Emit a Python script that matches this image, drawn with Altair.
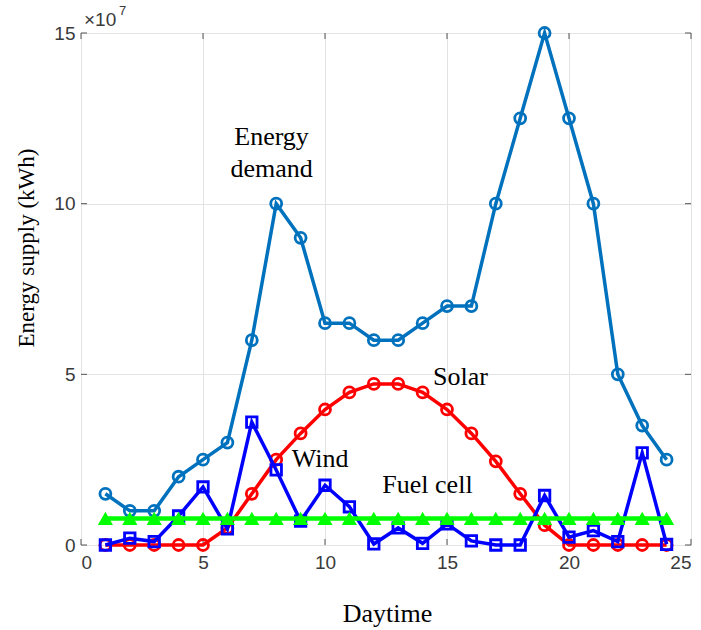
import altair as alt
import pandas as pd

# Values in units of 1e7 kWh
hours = list(range(1, 25))
demand = [1.5, 1.0, 1.0, 2.0, 2.5, 3.0, 6.0, 10.0, 9.0, 6.5, 6.5, 6.0,
          6.0, 6.5, 7.0, 7.0, 10.0, 12.5, 15.0, 12.5, 10.0, 5.0, 3.5, 2.5]
solar = [0, 0, 0, 0, 0, 0.5, 1.5, 2.5, 3.27, 3.97, 4.47, 4.72,
         4.72, 4.47, 3.97, 3.27, 2.45, 1.5, 0.58, 0, 0, 0, 0, 0]
wind = [0.0, 0.2, 0.1, 0.85, 1.7, 0.47, 3.6, 2.2, 0.7, 1.75, 1.12, 0.03,
        0.5, 0.05, 0.62, 0.12, 0.0, 0.0, 1.45, 0.23, 0.42, 0.1, 2.7, 0.02]
fuel = [0.78] * 24

x_ticks = [0, 5, 10, 15, 20, 25]
y_ticks = [0, 5, 10, 15]

labels = ["Energy", "demand", "Solar", "Wind", "Fuel cell"]
label_x = [7.81, 7.81, 15.55, 9.8, 14.2]
label_y = [11.72, 10.78, 4.69, 2.29, 1.52]

W, H = 610, 512
xs = alt.Scale(domain=[0, 25], nice=False, zero=False)
ys = alt.Scale(domain=[0, 15], nice=False, zero=False)

xaxis = alt.Axis(values=x_ticks, title=None, grid=True, gridColor="#e3e3e3",
                 ticks=False, domain=False, labelFont="Liberation Sans",
                 labelFontSize=19, labelColor="#3a3a3a", labelPadding=8,
                 format="d")
yaxis = alt.Axis(values=y_ticks, title=None, grid=True, gridColor="#e3e3e3",
                 ticks=False, domain=False, labelFont="Liberation Sans",
                 labelFontSize=19, labelColor="#3a3a3a", labelPadding=6,
                 format="d")

def X(f):
    return alt.X(f, scale=xs, axis=xaxis)

def Y(f):
    return alt.Y(f, scale=ys, axis=yaxis)

def series(vals, color, shape, filled, size, lw):
    df = pd.DataFrame({"h": hours, "v": vals})
    base = alt.Chart(df).encode(x=X("h:Q"), y=Y("v:Q"))
    line = base.mark_line(color=color, strokeWidth=lw)
    pts = base.mark_point(shape=shape, filled=filled, color=color,
                          size=size, strokeWidth=2.8, opacity=1)
    return line + pts

tick_color = "#555555"
xt = pd.DataFrame({"t": x_ticks})
yt = pd.DataFrame({"t": y_ticks})
ticks = (
    alt.Chart(xt).mark_rule(color=tick_color).encode(
        x=X("t:Q"), y=alt.value(H), y2=alt.value(H - 6))
    + alt.Chart(xt).mark_rule(color=tick_color).encode(
        x=X("t:Q"), y=alt.value(0), y2=alt.value(6))
    + alt.Chart(yt).mark_rule(color=tick_color).encode(
        y=Y("t:Q"), x=alt.value(0), x2=alt.value(6))
    + alt.Chart(yt).mark_rule(color=tick_color).encode(
        y=Y("t:Q"), x=alt.value(W), x2=alt.value(W - 6))
)

ann = alt.Chart(pd.DataFrame({"t": labels, "x": label_x, "y": label_y})).mark_text(
    font="Liberation Serif", fontSize=26, color="black", align="center",
    baseline="alphabetic").encode(x=X("x:Q"), y=Y("y:Q"), text="t:N")

titles = (
    alt.Chart(pd.DataFrame({"t": ["Daytime"]})).mark_text(
        font="Liberation Serif", fontSize=26, color="black",
        align="center", baseline="alphabetic").encode(
        text="t:N", x=alt.value(306.5), y=alt.value(589))
    + alt.Chart(pd.DataFrame({"t": ["Energy supply (kWh)"]})).mark_text(
        font="Liberation Serif", fontSize=23, color="black", angle=270,
        align="center", baseline="middle").encode(
        text="t:N", x=alt.value(-54), y=alt.value(215))
    + alt.Chart(pd.DataFrame({"t": ["\u00d710"]})).mark_text(
        font="Liberation Sans", fontSize=19, color="#3a3a3a",
        align="left", baseline="middle").encode(
        text="t:N", x=alt.value(3), y=alt.value(-13))
    + alt.Chart(pd.DataFrame({"t": ["7"]})).mark_text(
        font="Liberation Sans", fontSize=13, color="#3a3a3a",
        align="left", baseline="middle").encode(
        text="t:N", x=alt.value(38), y=alt.value(-22))
)

chart = alt.layer(
    ticks,
    series(demand, "#0072BD", "circle", False, 120, 3.5),
    series(solar, "#FF0000", "circle", False, 120, 3.5),
    series(wind, "#0000FF", "square", False, 110, 3.5),
    series(fuel, "#00FF00", "triangle-up", True, 230, 4.5),
    ann, titles,
).properties(
    width=W, height=H,
    padding={"left": 81, "top": 33, "right": 10, "bottom": 85},
    autosize=alt.AutoSizeParams(type="none"),
).configure_view(stroke="#6a6a6a", strokeWidth=1.2).configure(background="white")

chart.save("out.html", embed_options={"renderer": "svg", "actions": False})
